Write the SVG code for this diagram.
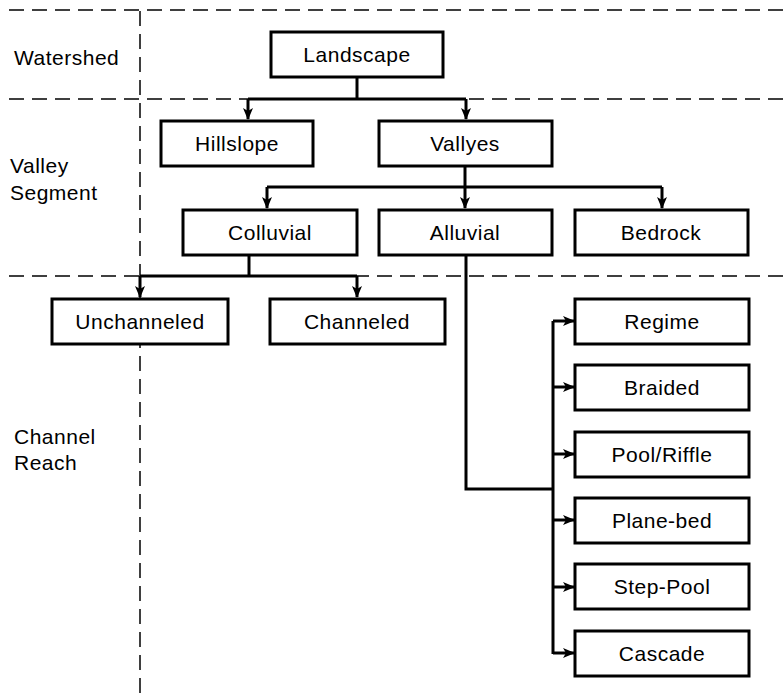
<svg xmlns="http://www.w3.org/2000/svg" width="784" height="695" viewBox="0 0 784 695">
<style>
.box{fill:#fff;stroke:#000;stroke-width:3}
.t{font-family:"Liberation Sans",Arial,sans-serif;font-size:21px;fill:#000;text-anchor:middle;letter-spacing:0.5px}
.lab{font-family:"Liberation Sans",Arial,sans-serif;font-size:21px;fill:#000;letter-spacing:0.5px}
.dash{stroke:#000;stroke-width:1.5;stroke-dasharray:15 8;fill:none}
.c{stroke:#000;stroke-width:3;fill:none}
</style>
<defs>
<marker id="ah" markerUnits="userSpaceOnUse" markerWidth="12" markerHeight="12" viewBox="0 0 12 12" refX="11" refY="6" orient="auto">
<path d="M0,1 L12,6 L0,11 L3,6 z" fill="#000"/>
</marker>
</defs>
<rect width="784" height="695" fill="#fff"/>
<g id="guides">
<line class="dash" x1="9" y1="10" x2="784" y2="10"/>
<line class="dash" x1="9" y1="99" x2="784" y2="99"/>
<line class="dash" x1="9" y1="276" x2="784" y2="276"/>
<line class="dash" x1="140" y1="11" x2="140" y2="695"/>
</g>
<g id="levels">
<text class="lab" x="14" y="65">Watershed</text>
<text class="lab" x="10" y="173">Valley</text>
<text class="lab" x="10" y="200">Segment</text>
<text class="lab" x="14" y="444">Channel</text>
<text class="lab" x="14" y="470">Reach</text>
</g>
<g id="connectors">
<path class="c" d="M357,77 V99"/>
<path class="c" d="M248,99 H466"/>
<path class="c" d="M248,99 V119" marker-end="url(#ah)"/>
<path class="c" d="M466,99 V119" marker-end="url(#ah)"/>
<path class="c" d="M465,166 V187"/>
<path class="c" d="M267,187 H662"/>
<path class="c" d="M267,187 V208" marker-end="url(#ah)"/>
<path class="c" d="M465,187 V208" marker-end="url(#ah)"/>
<path class="c" d="M662,187 V208" marker-end="url(#ah)"/>
<path class="c" d="M249,255 V276"/>
<path class="c" d="M140,276 H357"/>
<path class="c" d="M140,276 V297" marker-end="url(#ah)"/>
<path class="c" d="M357,276 V297" marker-end="url(#ah)"/>
<path class="c" d="M466,255 V489 H553"/>
<path class="c" d="M553,321 V654"/>
<path class="c" d="M553,321 H574" marker-end="url(#ah)"/>
<path class="c" d="M553,387 H574" marker-end="url(#ah)"/>
<path class="c" d="M553,454 H574" marker-end="url(#ah)"/>
<path class="c" d="M553,520 H574" marker-end="url(#ah)"/>
<path class="c" d="M553,587 H574" marker-end="url(#ah)"/>
<path class="c" d="M553,653 H574" marker-end="url(#ah)"/>
</g>
<g id="landscape"><rect class="box" x="271" y="32" width="172" height="45"/><text class="t" x="357" y="62">Landscape</text></g>
<g id="hillslope"><rect class="box" x="161" y="121" width="152" height="45"/><text class="t" x="237" y="151">Hillslope</text></g>
<g id="vallyes"><rect class="box" x="379" y="121" width="173" height="45"/><text class="t" x="465" y="151">Vallyes</text></g>
<g id="colluvial"><rect class="box" x="183" y="210" width="174" height="45"/><text class="t" x="270" y="240">Colluvial</text></g>
<g id="alluvial"><rect class="box" x="379" y="210" width="173" height="45"/><text class="t" x="465" y="240">Alluvial</text></g>
<g id="bedrock"><rect class="box" x="575" y="210" width="173" height="45"/><text class="t" x="661" y="240">Bedrock</text></g>
<g id="unchanneled"><rect class="box" x="52" y="299" width="176" height="45"/><text class="t" x="140" y="329">Unchanneled</text></g>
<g id="channeled"><rect class="box" x="270" y="299" width="175" height="45"/><text class="t" x="357" y="329">Channeled</text></g>
<g id="regime"><rect class="box" x="575" y="299" width="174" height="45"/><text class="t" x="662" y="329">Regime</text></g>
<g id="braided"><rect class="box" x="575" y="365" width="174" height="45"/><text class="t" x="662" y="395">Braided</text></g>
<g id="poolriffle"><rect class="box" x="575" y="432" width="174" height="45"/><text class="t" x="662" y="462">Pool/Riffle</text></g>
<g id="planebed"><rect class="box" x="575" y="498" width="174" height="45"/><text class="t" x="662" y="528">Plane-bed</text></g>
<g id="steppool"><rect class="box" x="575" y="564" width="174" height="45"/><text class="t" x="662" y="594">Step-Pool</text></g>
<g id="cascade"><rect class="box" x="575" y="631" width="174" height="45"/><text class="t" x="662" y="661">Cascade</text></g>
</svg>
